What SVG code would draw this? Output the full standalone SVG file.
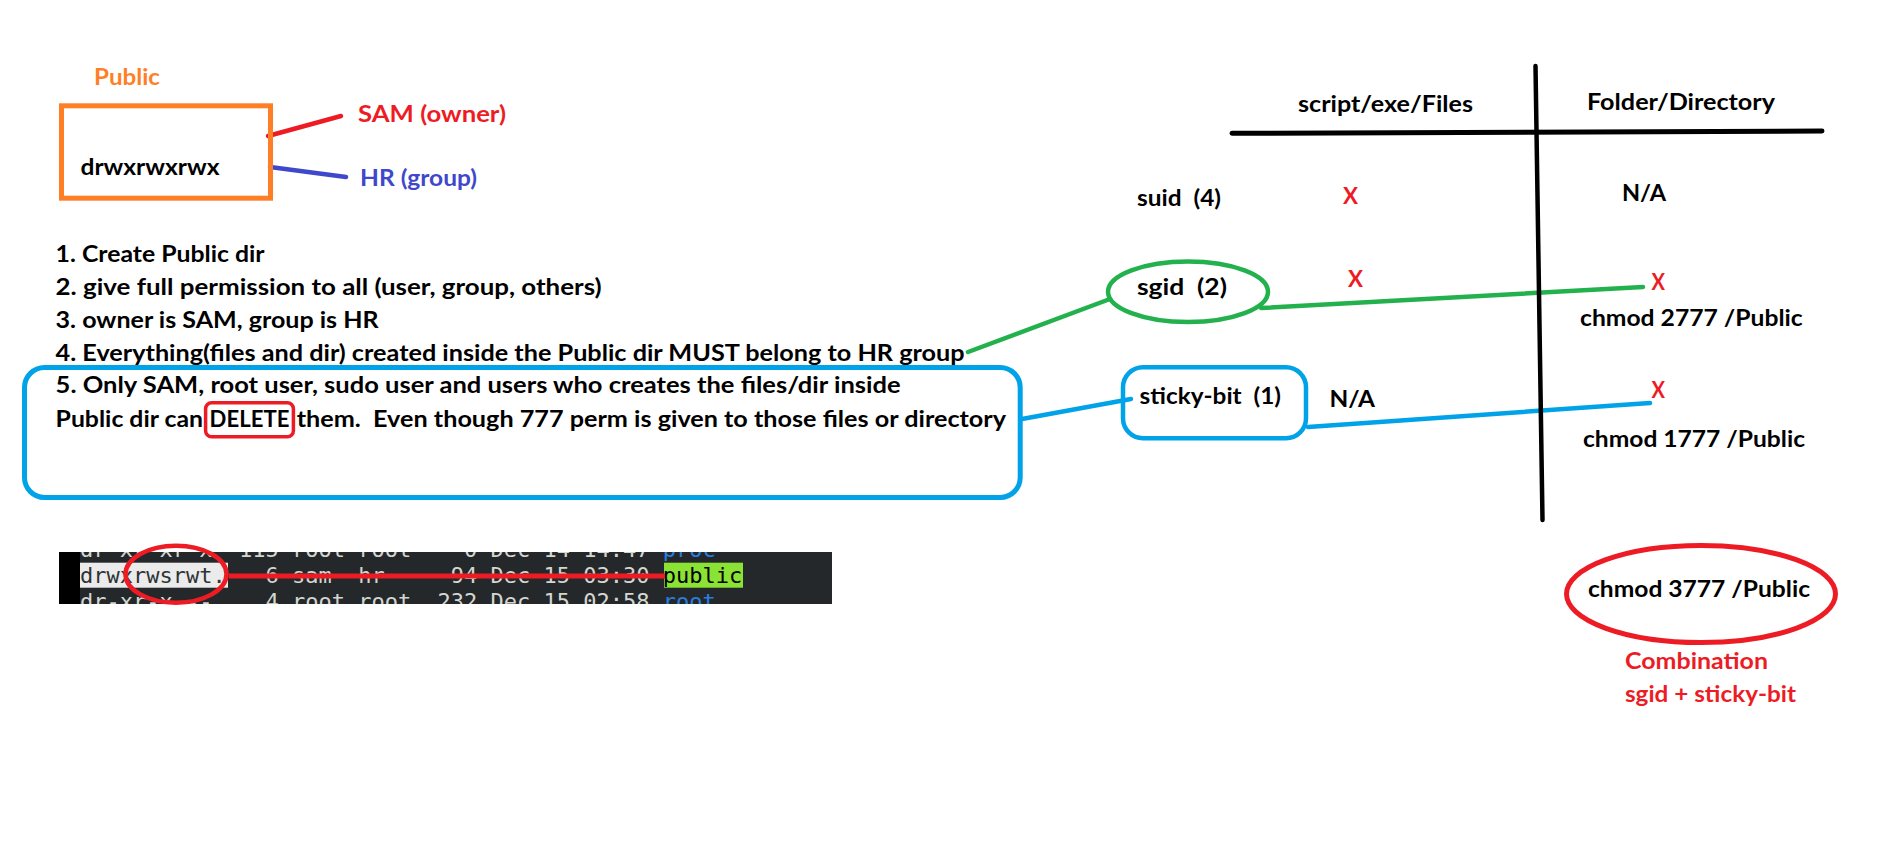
<svg xmlns="http://www.w3.org/2000/svg" width="1877" height="859" viewBox="0 0 1877 859">
<defs>
<style>
.t{font-family:Lato,"Liberation Sans",sans-serif;font-weight:700;font-size:22px;fill:#000}
.red{fill:#ed1c24}
.org{fill:#ff7f27}
.ind{fill:#3f48cc}
.mono{font-family:"DejaVu Sans Mono","Liberation Mono",monospace;font-size:22px;fill:#d3d7cf}
.conn{fill:none;stroke-width:4.5;stroke-linecap:round}
.frame{fill:none;stroke-width:5}
</style>
<clipPath id="termclip"><rect x="59" y="552" width="773" height="52"/></clipPath>
</defs>
<rect width="1877" height="859" fill="#fff"/>

<g id="connectors">
<line class="conn" x1="268" y1="136" x2="341" y2="116" stroke="#ed1c24"/>
<line class="conn" x1="270" y1="167" x2="346" y2="177" stroke="#3f48cc"/>
<line class="conn" x1="968" y1="352" x2="1110" y2="299" stroke="#22b14c"/>
<line class="conn" x1="1261" y1="308" x2="1643" y2="287" stroke="#22b14c"/>
<line class="conn" x1="1022" y1="419" x2="1131" y2="399" stroke="#00a2e8"/>
<line class="conn" x1="1308" y1="427" x2="1650" y2="403" stroke="#00a2e8"/>
</g>

<g id="public-node">
<text class="t org" x="94" y="85" textLength="66" lengthAdjust="spacingAndGlyphs">Public</text>
<rect class="frame" x="61.5" y="105.8" width="209" height="92.4" stroke="#ff7f27"/>
<text class="t" x="80.5" y="175" textLength="139" lengthAdjust="spacingAndGlyphs">drwxrwxrwx</text>
</g>
<g id="owner-label">
<text class="t red" x="358" y="121.7" textLength="148" lengthAdjust="spacingAndGlyphs">SAM (owner)</text>
</g>
<g id="group-label">
<text class="t ind" x="360" y="185.7" textLength="117" lengthAdjust="spacingAndGlyphs">HR (group)</text>
</g>

<g id="requirements">
<text class="t" x="55.6" y="261.5" textLength="209" lengthAdjust="spacingAndGlyphs">1. Create Public dir</text>
<text class="t" x="55.6" y="294.7" textLength="546" lengthAdjust="spacingAndGlyphs">2. give full permission to all (user, group, others)</text>
<text class="t" x="55.6" y="327.9" textLength="323" lengthAdjust="spacingAndGlyphs">3. owner is SAM, group is HR</text>
<text class="t" x="55.6" y="360.5" textLength="909" lengthAdjust="spacingAndGlyphs">4. Everything(files and dir) created inside the Public dir MUST belong to HR group</text>
</g>

<g id="sticky-requirement">
<rect class="frame" x="24.5" y="367.5" width="995.7" height="130" rx="20" stroke="#00a2e8"/>
<text class="t" x="55.6" y="393.3" textLength="845" lengthAdjust="spacingAndGlyphs">5. Only SAM, root user, sudo user and users who creates the files/dir inside</text>
<text class="t" x="55.6" y="426.7" textLength="147.4" lengthAdjust="spacingAndGlyphs">Public dir can</text>
<rect x="205.6" y="402.7" width="87.8" height="34" rx="6" fill="none" stroke="#ed1c24" stroke-width="3.5"/>
<text class="t" x="209.6" y="426.7" textLength="79.8" lengthAdjust="spacingAndGlyphs">DELETE</text>
<text class="t" x="296.7" y="426.7" textLength="709.3" lengthAdjust="spacingAndGlyphs" xml:space="preserve">them.  Even though 777 perm is given to those files or directory</text>
</g>

<g id="terminal">
<g clip-path="url(#termclip)">
<rect x="59" y="552" width="773" height="52" fill="#25282b"/>
<rect x="59" y="552" width="21" height="52" fill="#000"/>
<text class="mono" x="80" y="557.3" xml:space="preserve">dr-xr-xr-x  115 root root    0 Dec 14 14:47 <tspan fill="#2a7fde">proc</tspan></text>
<rect x="80" y="562.7" width="148" height="25" fill="#ebebeb"/>
<rect x="664" y="562.7" width="79" height="25" fill="#8ae234"/>
<text class="mono" x="80" y="583.3" xml:space="preserve"><tspan fill="#2e3436">drwxrwsrwt.</tspan>   6 sam  hr     94 Dec 15 03:30 <tspan fill="#000">public</tspan></text>
<text class="mono" x="80" y="609.3" xml:space="preserve">dr-xr-x---    4 root root  232 Dec 15 02:58 <tspan fill="#2a7fde">root</tspan></text>
</g>
<ellipse cx="176" cy="574.2" rx="50.5" ry="28.5" fill="none" stroke="#ed1c24" stroke-width="4.5"/>
<line x1="229" y1="576" x2="665" y2="576" stroke="#ed1c24" stroke-width="5"/>
</g>

<g id="table">
<text class="t" x="1298" y="111.7" textLength="175" lengthAdjust="spacingAndGlyphs">script/exe/Files</text>
<text class="t" x="1587" y="110" textLength="188" lengthAdjust="spacingAndGlyphs">Folder/Directory</text>
<line x1="1232" y1="133.3" x2="1822" y2="131" stroke="#000" stroke-width="5" stroke-linecap="round"/>
<line x1="1535.5" y1="66" x2="1542.5" y2="520" stroke="#000" stroke-width="4.5" stroke-linecap="round"/>
</g>

<g id="suid-row">
<text class="t" x="1137" y="206" textLength="84" lengthAdjust="spacingAndGlyphs" xml:space="preserve">suid  (4)</text>
<text class="t red" x="1343" y="204" textLength="15" lengthAdjust="spacingAndGlyphs">X</text>
<text class="t" x="1622" y="200.7" textLength="44" lengthAdjust="spacingAndGlyphs">N/A</text>
</g>

<g id="sgid-node">
<ellipse cx="1188" cy="291.7" rx="80" ry="30.3" fill="none" stroke="#22b14c" stroke-width="4.5"/>
<text class="t" x="1137" y="295" textLength="90" lengthAdjust="spacingAndGlyphs" xml:space="preserve">sgid  (2)</text>
</g>
<g id="sgid-row">
<text class="t red" x="1348" y="287" textLength="15" lengthAdjust="spacingAndGlyphs">X</text>
<text class="t red" x="1651.5" y="290" textLength="13.5" lengthAdjust="spacingAndGlyphs">X</text>
<text class="t" x="1580" y="326" textLength="222.7" lengthAdjust="spacingAndGlyphs">chmod 2777 /Public</text>
</g>

<g id="sticky-node">
<rect x="1123" y="367.3" width="183" height="71" rx="20" fill="none" stroke="#00a2e8" stroke-width="4.5"/>
<text class="t" x="1139.6" y="404" textLength="141.4" lengthAdjust="spacingAndGlyphs" xml:space="preserve">sticky-bit  (1)</text>
</g>
<g id="sticky-row">
<text class="t" x="1329.4" y="406.7" textLength="45.6" lengthAdjust="spacingAndGlyphs">N/A</text>
<text class="t red" x="1651.5" y="398.3" textLength="13.5" lengthAdjust="spacingAndGlyphs">X</text>
<text class="t" x="1583" y="447.3" textLength="222" lengthAdjust="spacingAndGlyphs">chmod 1777 /Public</text>
</g>

<g id="combination-node">
<ellipse cx="1701" cy="594" rx="134.5" ry="48.5" fill="none" stroke="#ed1c24" stroke-width="5"/>
<text class="t" x="1588" y="596.7" textLength="222" lengthAdjust="spacingAndGlyphs">chmod 3777 /Public</text>
<text class="t red" x="1625" y="669.3" textLength="143" lengthAdjust="spacingAndGlyphs">Combination</text>
<text class="t red" x="1625" y="701.7" textLength="171" lengthAdjust="spacingAndGlyphs">sgid + sticky-bit</text>
</g>
</svg>
